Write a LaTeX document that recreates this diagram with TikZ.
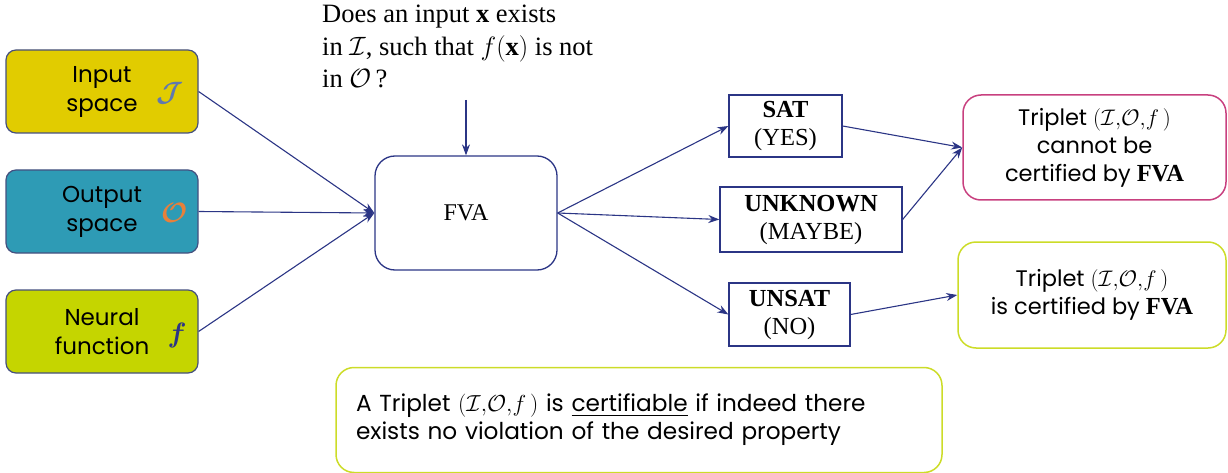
\RequirePackage{fix-cm}
\documentclass[tikz,border=0pt]{standalone}
\usepackage{fontspec}
\usepackage{amsmath}
\setmainfont{Liberation Serif}
\newfontfamily\gothic{Poppins}
\usetikzlibrary{arrows.meta}
\definecolor{navy}{HTML}{2B3585}
\definecolor{boxline}{HTML}{45507F}
\definecolor{inyellow}{HTML}{E1CC00}
\definecolor{outteal}{HTML}{2E9BB5}
\definecolor{nnlime}{HTML}{C5D500}
\definecolor{pinkline}{HTML}{C8407F}
\definecolor{limeline}{HTML}{CCDC28}
\definecolor{symblue}{HTML}{5F78B0}
\definecolor{symorange}{HTML}{E8803A}
\newcommand{\trip}{$(\mathcal{I}{,}\mathcal{O}{,}f\,)$}
\newcommand{\fvaword}{{\rmfamily\bfseries\fontsize{24.5}{28}\selectfont FVA}}
\tikzset{
  srcbox/.style={draw=boxline, line width=1.2pt, rounded corners=10pt, minimum width=192pt, minimum height=83pt, align=center, font=\gothic\fontsize{23}{29}\selectfont, text=black},
  fvabox/.style={draw=navy, line width=1.3pt, rounded corners=20pt, minimum width=182pt, minimum height=114pt, font=\fontsize{24}{26}\selectfont},
  resbox/.style={draw=navy, line width=1.3pt, align=center, font=\fontsize{24.5}{28}\selectfont, inner sep=0pt},
  outbox/.style={line width=1.5pt, rounded corners=18pt, align=center, font=\gothic\fontsize{22.5}{28}\selectfont},
  conn/.style={draw=navy, line width=1.1pt, -{Stealth[length=11pt,width=8pt]}},
  sym/.style={font=\fontsize{28}{28}\selectfont, inner sep=0pt}
}
\begin{document}
\begin{tikzpicture}[x=1pt,y=-1pt]
\useasboundingbox (0,0) rectangle (1228,473);
% source boxes
\node[srcbox, fill=inyellow] (in) at (102,91.5) {Input\\space};
\node[sym, text=symblue] (insym) at (170,93) {$\boldsymbol{\mathcal{J}}$};
\node[srcbox, fill=outteal] (out) at (102,211.5) {Output\\space};
\node[sym, text=symorange] (outsym) at (175,213) {$\boldsymbol{\mathcal{O}}$};
\node[srcbox, fill=nnlime] (nn) at (102,331.5) {Neural\\function};
\node[sym, text=navy] (nnsym) at (177,335) {$\boldsymbol{f}$};
% FVA
\node[fvabox] (fva) at (466,213) {FVA};
% question
\node[anchor=north west, align=left, inner sep=0pt, font=\fontsize{26.5}{32.5}\selectfont] (q) at (322,5)
  {Does an input \textbf{x} exists\\in $\mathcal{I}$, such that $f(\textbf{x})$ is not\\in $\mathcal{O}$\,?};
\coordinate (qa) at (466,100);
% results
\node[resbox, minimum width=113pt, minimum height=62pt] (sat) at (785.5,126) {\textbf{SAT}\\(YES)};
\node[resbox, minimum width=182pt, minimum height=65pt] (unk) at (811,219.5) {\textbf{UNKNOWN}\\(MAYBE)};
\node[resbox, minimum width=121pt, minimum height=63pt] (uns) at (789.5,314.5) {\textbf{UNSAT}\\(NO)};
% outcome boxes
\node[outbox, draw=pinkline, minimum width=263pt, minimum height=105pt] (nocert) at (1094.5,147.5)
  {Triplet \trip\\cannot be\\certified by \fvaword};
\node[outbox, draw=limeline, minimum width=268pt, minimum height=106pt] (cert) at (1092,295)
  {Triplet \trip\\is certified by \fvaword};
\node[outbox, draw=limeline, minimum width=606pt, minimum height=105pt, align=left, text width=566pt, font=\gothic\fontsize{23.2}{28}\selectfont] (note) at (639,420)
  {A Triplet \trip{} is \underline{certifiable} if indeed there\\exists no violation of the desired property};
% connectors
\draw[conn] (in.east) -- (fva.west);
\draw[conn] (out.east) -- (fva.west);
\draw[conn] (nn.east) -- (fva.west);
\draw[conn] (qa) -- (fva.north);
\draw[conn] (fva.east) -- (sat.west);
\draw[conn] (fva.east) -- (unk.west);
\draw[conn] (fva.east) -- (uns.west);
\draw[conn] (sat.east) -- (nocert.west);
\draw[conn] (unk.east) -- (nocert.west);
\draw[conn] (uns.east) -- (cert.west);
\end{tikzpicture}
\end{document}
